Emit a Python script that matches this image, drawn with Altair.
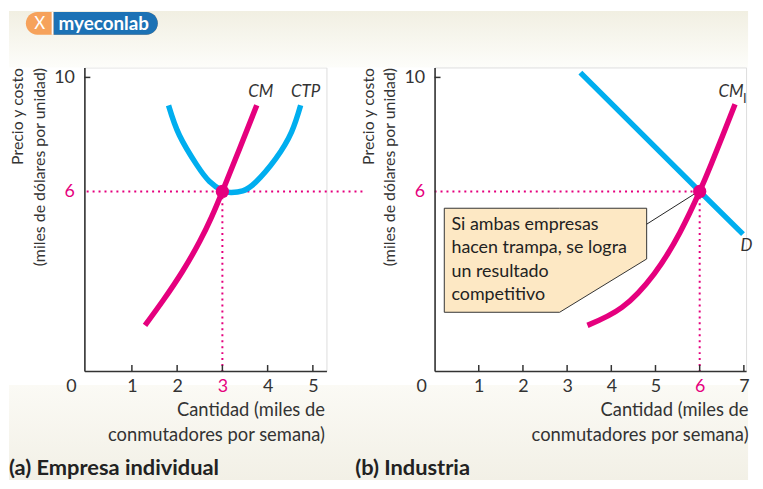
import altair as alt
import pandas as pd

PINK = "#e5007e"
BLUE = "#00aeef"
INK = "#333333"
FONT = "Lato"

# ---------------- data: panel (a) Empresa individual ----------------
cm_x = [1.29, 1.70, 2.12, 2.50, 2.76, 3.00, 3.38, 3.76]
cm_y = [1.30, 2.20, 3.20, 4.25, 5.10, 6.00, 7.50, 9.02]
ctp_x = [1.81, 2.05, 2.43, 2.71, 3.00, 3.20, 3.45, 3.74, 4.18, 4.53, 4.73]
ctp_y = [9.02, 7.97, 6.94, 6.36, 6.03, 5.96, 6.02, 6.33, 7.15, 8.09, 9.02]
a_eq_x, a_eq_y = 3, 6
a_xticks = [1, 2, 3, 4, 5]

# ---------------- data: panel (b) Industria ----------------
d_x = [3.30, 6.00, 6.98]
d_y = [10.17, 6.00, 4.50]
cmi_x = [3.46, 4.24, 4.97, 5.55, 6.00, 6.26, 6.53, 6.80]
cmi_y = [1.30, 1.93, 3.11, 4.55, 6.00, 6.95, 8.00, 9.06]
b_eq_x, b_eq_y = 6, 6
b_xticks = [1, 2, 3, 4, 5, 6, 7]

y_ticks = [6, 10]
y_title = ["Precio y costo", "(miles de dólares por unidad)"]
x_title = ["Cantidad (miles de", "conmutadores por semana)"]
note_lines = ["Si ambas empresas", "hacen trampa, se logra", "un resultado", "competitivo"]
# annotation box (data coordinates of panel b)
box_x = [0.22, 2.83, 4.80]
box_top = [5.41, 5.41, 5.41]
box_bot = [1.76, 1.76, 3.63]
leader_x = [4.80, 5.87]
leader_y = [4.85, 5.90]

H = 306
W1 = 244
W2 = 314
YDOM = [-0.3, 10.35]
XDOM1 = [-0.05, 5.3]
XDOM2 = [0, 7.05]


def cond_color(val):
    return {"condition": {"test": f"datum.value == {val}", "value": PINK}, "value": INK}


def make_axes(xdom, xticks, xpink, w, extra_x=0):
    X = alt.X("x:Q", scale=alt.Scale(domain=xdom, nice=False, zero=False),
              axis=alt.Axis(values=xticks, ticks=False, tickSize=0, grid=False,
                            domainColor=INK, domainWidth=1.6,
                            labelFont=FONT, labelFontSize=18, labelColor=cond_color(xpink),
                            labelPadding=7, labelFlush=False,
                            title=x_title, titleFont=FONT, titleFontSize=18.5,
                            titleFontWeight="normal", titleColor=INK, titleAnchor="end",
                            titleAlign="right", titleX=w + extra_x,
                            titleLineHeight=25, titlePadding=5, zindex=1))
    Y = alt.Y("y:Q", scale=alt.Scale(domain=YDOM, nice=False, zero=False),
              axis=alt.Axis(values=y_ticks, ticks=False, tickSize=0, grid=False,
                            domainColor=INK, domainWidth=1.6,
                            labelFont=FONT, labelFontSize=18, labelColor=cond_color(6),
                            labelPadding=10, labelFlush=False,
                            title=y_title, titleFont=FONT, titleFontSize=16,
                            titleFontWeight="normal", titleColor=INK, titleAnchor="end",
                            titleLineHeight=22, titlePadding=6, zindex=1))
    return X, Y


one = pd.DataFrame({"k": [0]})


def decor_common(xticks, X, Y):
    tdf = pd.DataFrame({"x": xticks})
    xt = alt.Chart(tdf).mark_rule(color=INK, strokeWidth=1.5).encode(
        x=X, y=alt.value(H), y2=alt.value(H - 6))
    ydf = pd.DataFrame({"y": [10]})
    yt = alt.Chart(ydf).mark_rule(color=INK, strokeWidth=1.5).encode(
        y=Y, x=alt.value(0), x2=alt.value(6))
    zero = alt.Chart(one).mark_text(text="0", font=FONT, fontSize=18, color=INK,
                                    baseline="middle").encode(
        x=alt.value(-13), y=alt.value(H + 16))
    return [xt, yt, zero]


# ---------------- panel (a) ----------------
X1, Y1 = make_axes(XDOM1, a_xticks, 3, W1, -2)

curves_a = pd.DataFrame({
    "x": cm_x + ctp_x,
    "y": cm_y + ctp_y,
    "s": ["CM"] * len(cm_x) + ["CTP"] * len(ctp_x),
})
lines_a = alt.Chart(curves_a).mark_line(strokeWidth=5.5, interpolate="natural",
                                         strokeCap="butt").encode(
    x=X1, y=Y1,
    color=alt.Color("s:N", scale=alt.Scale(domain=["CM", "CTP"], range=[PINK, BLUE]), legend=None),
    order=alt.Order("x:Q"))

dots_a = pd.DataFrame({"x": [0, a_eq_x], "x2": [6.15, a_eq_x], "y": [a_eq_y, a_eq_y], "y2": [a_eq_y, YDOM[0]]})
dotted_a = alt.Chart(dots_a).mark_rule(color=PINK, strokeWidth=2, strokeDash=[2, 4]).encode(
    x=X1, x2="x2:Q", y=Y1, y2="y2:Q")

pt_a = alt.Chart(pd.DataFrame({"x": [a_eq_x], "y": [a_eq_y]})).mark_circle(
    size=180, color=PINK, opacity=1).encode(x=X1, y=Y1)

lab_a = pd.DataFrame({"x": [3.85, 4.84], "y": [9.48, 9.48], "t": ["CM", "CTP"]})
labels_a = alt.Chart(lab_a).mark_text(font=FONT, fontSize=17, fontStyle="italic",
                                      color=INK, baseline="middle").encode(
    x=X1, y=Y1, text="t:N")

grad_top = {"gradient": "linear", "x1": 0, "y1": 0, "x2": 0, "y2": 1,
            "stops": [{"offset": 0, "color": "#f1efe2"}, {"offset": 1, "color": "#fdfdfa"}]}
grad_bot = {"gradient": "linear", "x1": 0, "y1": 0, "x2": 0, "y2": 1,
            "stops": [{"offset": 0, "color": "#fbfaf5"}, {"offset": 1, "color": "#f2f0e6"}]}
band_top = alt.Chart(one).mark_rect(color=grad_top).encode(
    x=alt.value(-76), x2=alt.value(669), y=alt.value(-57), y2=alt.value(0))
band_bot = alt.Chart(one).mark_rect(color=grad_bot).encode(
    x=alt.value(-76), x2=alt.value(669), y=alt.value(320), y2=alt.value(416))

logo_o = alt.Chart(one).mark_rect(color="#f6a25b", cornerRadius=11.5).encode(
    x=alt.value(-59), x2=alt.value(74), y=alt.value(-56), y2=alt.value(-33))
logo_w = alt.Chart(one).mark_rect(color="white").encode(
    x=alt.value(-33), x2=alt.value(-31), y=alt.value(-56), y2=alt.value(-33))
logo_b = alt.Chart(one).mark_rect(color="#1c72b5", cornerRadiusTopRight=11.5,
                                  cornerRadiusBottomRight=11.5).encode(
    x=alt.value(-31), x2=alt.value(74), y=alt.value(-56), y2=alt.value(-33))
logo_t = alt.Chart(one).mark_text(text="myeconlab", font=FONT, fontSize=19, fontWeight="bold",
                                  color="white", align="left", baseline="middle").encode(
    x=alt.value(-26), y=alt.value(-44))
logo_i = alt.Chart(one).mark_text(text="X", font=FONT, fontSize=17, color="white",
                                  baseline="middle").encode(
    x=alt.value(-45), y=alt.value(-44))

cap_a = alt.Chart(one).mark_text(text="(a) Empresa individual", font=FONT, fontSize=22,
                                 fontWeight="bold", color="#222", align="left",
                                 baseline="middle").encode(
    x=alt.value(-76), y=alt.value(404))

left = alt.layer(band_top, band_bot, logo_o, logo_w, logo_b, logo_t, logo_i,
                 dotted_a, lines_a, pt_a, labels_a,
                 *decor_common(a_xticks, X1, Y1), cap_a).properties(width=W1, height=H)

# ---------------- panel (b) ----------------
X2, Y2 = make_axes(XDOM2, b_xticks, 6, W2, 2)

curves_b = pd.DataFrame({
    "x": cmi_x + d_x,
    "y": cmi_y + d_y,
    "s": ["CMI"] * len(cmi_x) + ["D"] * len(d_x),
})
lines_b = alt.Chart(curves_b).mark_line(strokeWidth=5.5, interpolate="natural",
                                         strokeCap="butt").encode(
    x=X2, y=Y2,
    color=alt.Color("s:N", scale=alt.Scale(domain=["CMI", "D"], range=[PINK, BLUE]), legend=None),
    order=alt.Order("x:Q"))

dots_b = pd.DataFrame({"x": [0, b_eq_x], "x2": [b_eq_x, b_eq_x], "y": [b_eq_y, b_eq_y], "y2": [b_eq_y, YDOM[0]]})
dotted_b = alt.Chart(dots_b).mark_rule(color=PINK, strokeWidth=2, strokeDash=[2, 4]).encode(
    x=X2, x2="x2:Q", y=Y2, y2="y2:Q")

box_df = pd.DataFrame({"x": box_x, "y": box_top, "y2": box_bot})
box = alt.Chart(box_df).mark_area(fill="#fde8c4", stroke="#333", strokeWidth=1,
                                  interpolate="linear").encode(
    x=X2, y=Y2, y2="y2:Q")
leader = alt.Chart(pd.DataFrame({"x": leader_x, "y": leader_y})).mark_line(
    color="#222", strokeWidth=1).encode(x=X2, y=Y2)
note = alt.Chart(one).mark_text(text=note_lines, font=FONT, fontSize=18, color="#222",
                                align="left", baseline="alphabetic", lineHeight=23.5).encode(
    x=alt.value(17), y=alt.value(164))

pt_b = alt.Chart(pd.DataFrame({"x": [b_eq_x], "y": [b_eq_y]})).mark_circle(
    size=180, color=PINK, opacity=1).encode(x=X2, y=Y2)

lab_b = pd.DataFrame({"x": [6.71, 7.06], "y": [9.48, 4.09], "t": ["CM", "D"]})
labels_b = alt.Chart(lab_b).mark_text(font=FONT, fontSize=17, fontStyle="italic",
                                      color=INK, baseline="middle").encode(
    x=X2, y=Y2, text="t:N")
sub_b = alt.Chart(pd.DataFrame({"x": [7.02], "y": [9.23], "t": ["I"]})).mark_text(
    font=FONT, fontSize=13, color=INK, baseline="middle").encode(x=X2, y=Y2, text="t:N")

cap_b = alt.Chart(one).mark_text(text="(b) Industria", font=FONT, fontSize=22,
                                 fontWeight="bold", color="#222", align="left",
                                 baseline="middle").encode(
    x=alt.value(-80), y=alt.value(404))

right = alt.layer(dotted_b, lines_b, box, leader, note, pt_b, labels_b, sub_b,
                  *decor_common(b_xticks, X2, Y2), cap_b).properties(width=W2, height=H)

chart = alt.hconcat(left, right, spacing=109, bounds="flush").properties(
    padding=0
).resolve_scale(x="independent", y="independent", color="independent").configure_view(
    strokeWidth=0
).configure(background="white")

chart.save("out.html", embed_options={"renderer": "svg", "actions": False})
